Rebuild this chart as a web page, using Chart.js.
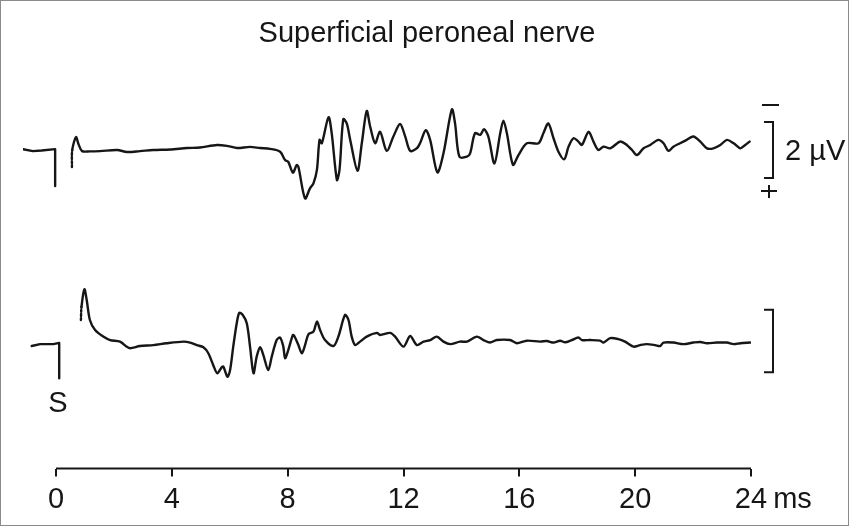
<!DOCTYPE html>
<html>
<head>
<meta charset="utf-8">
<script src="https://cdn.jsdelivr.net/npm/chart.js@4.4.1/dist/chart.umd.min.js"></script>
<style>
  html, body { margin: 0; padding: 0; background: #fff; }
</style>
</head>
<body>
<canvas id="chart" width="849" height="526"></canvas>
<script>
const TITLE = "Superficial peroneal nerve";
const xTicks = [0, 4, 8, 12, 16, 20, 24];
const timeUnit = "ms";
const scaleBarUV = 2;
const scaleBarLabel = "2 µV";
const stimLabel = "S";

// upper sweep: baseline before the stimulus, then the response (µV, upward = negative pole)
const topPreTime = [-1.14, -0.8, -0.5, -0.03, -0.03];
const topPreUV = [0.03, -0.04, -0.02, 0.03, -1.29];
const topTime = [
  0.55, 0.56, 0.69, 0.78, 0.90, 1.17, 1.52, 2.11, 2.45, 2.90, 3.35, 3.94, 4.53, 4.97, 5.56, 5.94,
  6.25, 6.70, 7.05, 7.39, 7.74, 7.91, 8.02, 8.18, 8.31, 8.37, 8.60, 8.77, 8.89, 9.01, 9.10, 9.18,
  9.41, 9.52, 9.70, 9.79, 9.92, 10.04, 10.16, 10.41, 10.56, 10.73, 10.85, 11.02, 11.19, 11.42, 11.65, 11.88,
  12.06, 12.23, 12.46, 12.57, 12.77, 12.92, 13.17, 13.38, 13.67, 13.78, 13.93, 14.19, 14.30, 14.47, 14.65, 14.78,
  14.93, 15.14, 15.34, 15.45, 15.57, 15.78, 15.97, 16.26, 16.66, 16.83, 17.00, 17.18, 17.35, 17.55, 17.70, 17.87,
  18.04, 18.16, 18.39, 18.56, 18.73, 18.91, 19.14, 19.48, 19.71, 19.89, 20.06, 20.29, 20.52, 20.80, 20.98, 21.15,
  21.32, 21.55, 21.78, 22.01, 22.25, 22.48, 22.70, 22.94, 23.17, 23.40, 23.63, 23.80, 23.95
];
const topUV = [
  -0.61, 0.00, 0.46, 0.20, -0.04, -0.05, -0.04, 0.00, -0.07, -0.04, 0.00, 0.02, 0.07, 0.09, 0.18, 0.14,
  0.07, 0.11, 0.07, 0.04, -0.06, -0.36, -0.42, -0.81, -0.54, -0.60, -1.73, -1.37, -1.19, -0.71, 0.36, 0.24,
  1.17, 0.60, -1.07, -0.71, 1.10, 0.95, 0.36, -0.74, 0.24, 1.39, 0.83, 0.24, 0.65, -0.03, 0.48, 0.93,
  0.48, -0.03, 0.06, 0.24, 0.71, 0.36, -0.80, -0.12, 1.45, 0.95, -0.24, -0.24, -0.12, 0.60, 0.54, 0.74,
  0.48, -0.48, 0.60, 1.05, 0.60, -0.53, -0.18, 0.24, 0.24, 0.60, 0.95, 0.42, -0.06, -0.33, 0.12, 0.42,
  0.30, 0.18, 0.65, 0.30, 0.00, 0.12, 0.06, 0.30, 0.18, 0.00, -0.18, 0.06, 0.18, 0.36, 0.24, -0.03,
  0.12, 0.24, 0.36, 0.48, 0.30, 0.06, 0.06, 0.18, 0.36, 0.24, 0.06, 0.18, 0.30
];

// lower sweep
const bottomPreTime = [-0.84, -0.55, -0.09, 0.11, 0.11];
const bottomPreUV = [-0.16, -0.10, -0.10, -0.06, -1.19];
const bottomTime = [
  0.86, 0.88, 0.98, 1.06, 1.17, 1.35, 1.63, 1.87, 2.21, 2.44, 2.56, 2.90, 3.36, 3.82, 4.40, 4.63,
  4.86, 5.09, 5.26, 5.43, 5.57, 5.72, 5.78, 5.92, 6.01, 6.12, 6.24, 6.33, 6.45, 6.59, 6.70, 6.82,
  6.93, 7.05, 7.16, 7.33, 7.45, 7.62, 7.74, 7.85, 7.91, 8.02, 8.18, 8.23, 8.37, 8.49, 8.60, 8.72,
  8.89, 9.01, 9.12, 9.29, 9.58, 9.75, 9.98, 10.10, 10.21, 10.33, 10.50, 10.73, 11.08, 11.19, 11.54, 11.71,
  12.00, 12.23, 12.46, 12.69, 12.92, 13.15, 13.38, 13.61, 13.95, 14.19, 14.53, 14.76, 14.99, 15.22, 15.68, 15.91,
  16.26, 16.72, 16.95, 17.18, 17.41, 17.58, 17.81, 18.04, 18.16, 18.45, 18.79, 18.91, 19.14, 19.42, 19.65, 19.94,
  20.17, 20.40, 20.69, 20.86, 20.98, 21.32, 21.67, 22.01, 22.25, 22.48, 22.82, 23.17, 23.40, 23.63, 23.97
];
const bottomUV = [
  0.67, 1.09, 1.65, 1.31, 0.67, 0.35, 0.14, 0.03, -0.02, -0.18, -0.23, -0.16, -0.13, -0.07, -0.02, -0.05,
  -0.13, -0.20, -0.39, -0.77, -1.03, -0.84, -0.82, -1.14, -0.93, -0.18, 0.56, 0.90, 0.83, 0.56, -0.18, -1.03,
  -0.50, -0.20, -0.45, -0.93, -0.50, 0.03, 0.11, -0.18, -0.55, -0.29, 0.19, 0.16, -0.13, -0.39, -0.13, 0.22,
  0.30, 0.62, 0.35, 0.03, -0.16, 0.14, 0.83, 0.67, 0.14, -0.13, -0.02, 0.14, 0.26, 0.19, 0.26, 0.14,
  -0.18, 0.16, -0.13, -0.02, 0.03, 0.14, -0.02, -0.10, -0.02, -0.02, 0.14, 0.03, -0.05, 0.03, 0.03, -0.07,
  0.01, -0.02, 0.00, -0.05, 0.01, -0.04, 0.03, 0.11, 0.03, 0.03, 0.01, -0.05, 0.09, 0.06, -0.02, -0.18,
  -0.13, -0.10, -0.13, -0.16, -0.05, -0.05, -0.10, -0.05, -0.03, -0.07, -0.05, -0.05, -0.10, -0.07, -0.05
];

const INK = "#161616";
const FONT = "'Liberation Sans', Arial, Helvetica, sans-serif";
const TICK_PAD = 6;

function points(times, values) {
  return times.map((t, i) => ({ x: t, y: values[i] }));
}

function sweep(times, values, axis, smooth) {
  return {
    data: points(times, values),
    yAxisID: axis,
    borderColor: INK,
    borderWidth: 2.4,
    pointRadius: 0,
    tension: smooth ? 0.3 : 0,
    borderJoinStyle: "round",
    borderCapStyle: "round",
    // the first stretch after the stimulus gap is printed dotted
    segment: smooth ? { borderDash: (c) => (c.p0DataIndex === 0 ? [2, 2] : undefined) } : undefined,
  };
}

const decorations = {
  id: "decorations",
  afterDraw(chart) {
    const { ctx, chartArea, scales } = chart;
    const x = scales.x;
    ctx.save();
    ctx.strokeStyle = INK;
    ctx.fillStyle = INK;
    ctx.lineWidth = 2;

    // title, centred on the figure rather than on the plot area
    ctx.font = "29px " + FONT;
    ctx.textAlign = "center";
    ctx.textBaseline = "alphabetic";
    ctx.fillText(TITLE, 427, 42);

    // time axis line only between first and last tick
    ctx.beginPath();
    ctx.moveTo(x.getPixelForValue(xTicks[0]), chartArea.bottom);
    ctx.lineTo(x.getPixelForValue(xTicks[xTicks.length - 1]), chartArea.bottom);
    ctx.stroke();

    // unit after the last tick label
    ctx.textBaseline = "middle";
    ctx.textAlign = "left";
    const lastLabel = String(xTicks[xTicks.length - 1]);
    const labelY = chartArea.bottom + 8 + TICK_PAD + 29 * 1.2 / 2;
    ctx.fillText(timeUnit, x.getPixelForValue(xTicks[xTicks.length - 1]) + ctx.measureText(lastLabel).width / 2 + 6, labelY);

    // calibration brackets
    const bx = chartArea.right + 22;
    const brackets = [scales.yTop, scales.yBot].map((s) => {
      const y1 = s.getPixelForValue(scaleBarUV / 2);
      const y2 = s.getPixelForValue(-scaleBarUV / 2);
      ctx.beginPath();
      ctx.moveTo(bx - 9, y1);
      ctx.lineTo(bx, y1);
      ctx.lineTo(bx, y2);
      ctx.lineTo(bx - 9, y2);
      ctx.stroke();
      return [y1, y2];
    });
    const [t1, t2] = brackets[0];
    ctx.beginPath();
    ctx.moveTo(bx - 11, t1 - 17);
    ctx.lineTo(bx + 6, t1 - 17);
    ctx.moveTo(bx - 12, t2 + 13);
    ctx.lineTo(bx + 4, t2 + 13);
    ctx.moveTo(bx - 4, t2 + 7);
    ctx.lineTo(bx - 4, t2 + 20);
    ctx.stroke();
    ctx.textAlign = "left";
    ctx.fillText(scaleBarLabel, bx + 12, (t1 + t2) / 2 + 2);

    // stimulus mark label
    ctx.textAlign = "center";
    ctx.fillText(stimLabel, x.getPixelForValue(0) + 2, brackets[1][1] + 32);

    // thin frame round the figure
    ctx.strokeStyle = "#8a8a8a";
    ctx.lineWidth = 1;
    ctx.strokeRect(0.5, 0.5, chart.width - 1, chart.height - 1);
    ctx.restore();
  },
};

new Chart(document.getElementById("chart"), {
  type: "line",
  data: {
    datasets: [
      sweep(topPreTime, topPreUV, "yTop", false),
      sweep(topTime, topUV, "yTop", true),
      sweep(bottomPreTime, bottomPreUV, "yBot", false),
      sweep(bottomTime, bottomUV, "yBot", true),
    ],
  },
  options: {
    responsive: false,
    animation: false,
    events: [],
    layout: { padding: { left: 23, right: 98, top: 60, bottom: 0 } },
    plugins: {
      legend: { display: false },
      tooltip: { enabled: false },
      title: { display: false },
    },
    scales: {
      x: {
        type: "linear",
        min: -1.14,
        max: 24,
        afterBuildTicks: (s) => {
          s.ticks = xTicks.map((v) => ({ value: v }));
        },
        afterFit: (s) => {
          s.height = 57.5;
        },
        border: { display: false },
        grid: { drawOnChartArea: false, drawTicks: true, tickLength: 8, color: INK, lineWidth: 2 },
        ticks: { color: INK, font: { family: FONT, size: 29 }, padding: TICK_PAD, maxRotation: 0, autoSkip: false },
      },
      yTop: { type: "linear", display: false, min: -11.375, max: 3.214 },
      yBot: { type: "linear", display: false, min: -4.067, max: 8.963 },
    },
  },
  plugins: [decorations],
});
</script>
</body>
</html>
